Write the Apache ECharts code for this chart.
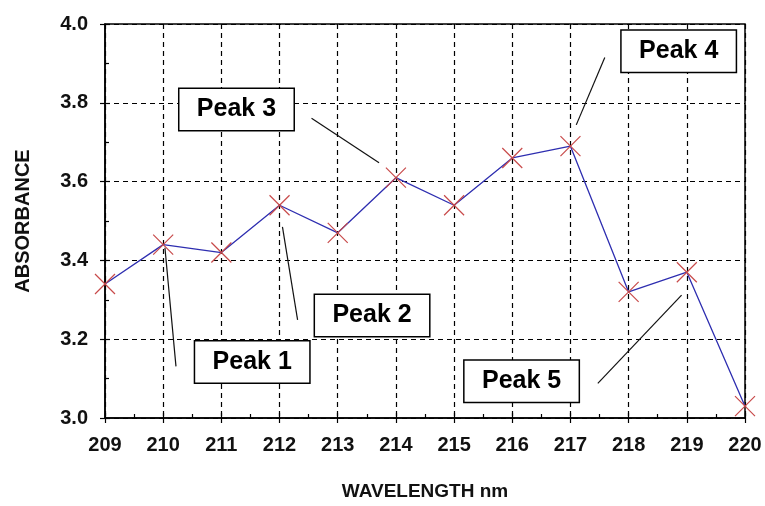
<!DOCTYPE html>
<html>
<head>
<meta charset="utf-8">
<script src="https://cdn.jsdelivr.net/npm/echarts@6/dist/echarts.min.js"></script>
<style>
html,body{margin:0;padding:0;background:#fff;}
#chart{width:765px;height:506px;}
</style>
</head>
<body>
<div id="chart"></div>
<script>
// Data
const wavelengths = [209, 210, 211, 212, 213, 214, 215, 216, 217, 218, 219, 220];
const absorbance = [3.34, 3.44, 3.42, 3.54, 3.47, 3.61, 3.54, 3.66, 3.69, 3.32, 3.37, 3.03];
const xTicks = { min: 209, max: 220, interval: 1 };
const yTicks = { min: 3.0, max: 4.0, interval: 0.2 };
const annotationLabels = ['Peak 1', 'Peak 2', 'Peak 3', 'Peak 4', 'Peak 5'];
// annotation box centres (data coords)
const annotationBoxes = [[211.53, 3.142], [213.59, 3.260], [211.26, 3.783], [218.86, 3.931], [216.16, 3.093]];
// leader lines: [x1, y1, x2, y2] in data coords
const leaderLines = [
  [210.03, 3.432, 210.22, 3.131],
  [212.05, 3.485, 212.31, 3.249],
  [212.55, 3.761, 213.71, 3.648],
  [217.59, 3.915, 217.10, 3.744],
  [217.47, 3.088, 218.91, 3.312]
];

const chart = echarts.init(document.getElementById('chart'), null, { renderer: 'canvas' });
const FONT = 'Liberation Sans, Arial, sans-serif';
const dashed = { show: true, lineStyle: { color: '#000', width: 1.2, type: [5, 4] } };

const option = {
  animation: false,
  backgroundColor: '#fff',
  grid: { left: 105, top: 24, right: 20, bottom: 84, show: true, borderColor: '#000', borderWidth: 1.5, backgroundColor: 'transparent' },
  xAxis: [
    {
      type: 'value', min: xTicks.min, max: xTicks.max, interval: xTicks.interval,
      name: 'WAVELENGTH nm', nameLocation: 'middle', nameGap: 64,
      nameTextStyle: { fontFamily: FONT, fontWeight: 'bold', fontSize: 19, color: '#111' },
      axisLine: { show: true, lineStyle: { color: '#000', width: 1.5 } },
      axisTick: { show: true, inside: false, length: 5, lineStyle: { color: '#000', width: 1.2 } },
      axisLabel: { fontFamily: FONT, fontWeight: 'bold', fontSize: 20, color: '#111', margin: 17 },
      splitLine: dashed,
      minorTick: { show: false }
    },
    {
      type: 'value', min: xTicks.min, max: xTicks.max, interval: xTicks.interval, position: 'bottom',
      axisLine: { show: false },
      axisTick: { show: true, inside: true, length: 5, lineStyle: { color: '#000', width: 1.2 } },
      minorTick: { show: true, splitNumber: 2, length: 4, lineStyle: { color: '#000', width: 1.2 } },
      axisLabel: { show: false },
      splitLine: { show: false }
    }
  ],
  yAxis: [
    {
      type: 'value', min: yTicks.min, max: yTicks.max, interval: yTicks.interval,
      name: 'ABSORBANCE', nameLocation: 'middle', nameGap: 72, nameRotate: 90,
      nameTextStyle: { fontFamily: FONT, fontWeight: 'bold', fontSize: 20, color: '#111' },
      axisLine: { show: true, lineStyle: { color: '#000', width: 1.5 } },
      axisTick: { show: true, inside: false, length: 5, lineStyle: { color: '#000', width: 1.2 } },
      axisLabel: { fontFamily: FONT, fontWeight: 'bold', fontSize: 20, color: '#111', margin: 17,
        formatter: v => v.toFixed(1) },
      splitLine: dashed,
      minorTick: { show: false }
    },
    {
      type: 'value', min: yTicks.min, max: yTicks.max, interval: yTicks.interval, position: 'left',
      axisLine: { show: false },
      axisTick: { show: true, inside: true, length: 5, lineStyle: { color: '#000', width: 1.2 } },
      minorTick: { show: true, splitNumber: 2, length: 4, lineStyle: { color: '#000', width: 1.2 } },
      axisLabel: { show: false },
      splitLine: { show: false }
    }
  ],
  series: [
    {
      type: 'line', xAxisIndex: 0, yAxisIndex: 0,
      data: wavelengths.map((w, i) => [w, absorbance[i]]),
      lineStyle: { color: '#2e2eb0', width: 1.3 },
      symbol: 'path://M0,0L20,20M20,0L0,20',
      symbolSize: 20,
      itemStyle: { color: '#c84a4a', borderColor: '#c84a4a', borderWidth: 1.2 },
      z: 5
    },
    {
      type: 'scatter', xAxisIndex: 0, yAxisIndex: 0,
      symbol: 'circle', symbolSize: 1,
      itemStyle: { color: 'rgba(0,0,0,0)', opacity: 1 },
      data: annotationBoxes.map((p, i) => ({ name: annotationLabels[i], value: p })),
      label: {
        show: true, position: 'inside', formatter: '{b}',
        fontFamily: FONT, fontWeight: 'bold', fontSize: 25, color: '#000',
        backgroundColor: '#fff', borderColor: '#000', borderWidth: 1.5,
        width: 110, height: 37, lineHeight: 37, align: 'center', verticalAlign: 'middle',
        padding: [2, 2]
      },
      markLine: {
        silent: true, symbol: 'none',
        lineStyle: { color: '#111', width: 1.2, type: 'solid', opacity: 1 },
        label: { show: false },
        data: leaderLines.map(l => [{ coord: [l[0], l[1]] }, { coord: [l[2], l[3]] }])
      },
      z: 10
    }
  ]
};
chart.setOption(option);
</script>
</body>
</html>
